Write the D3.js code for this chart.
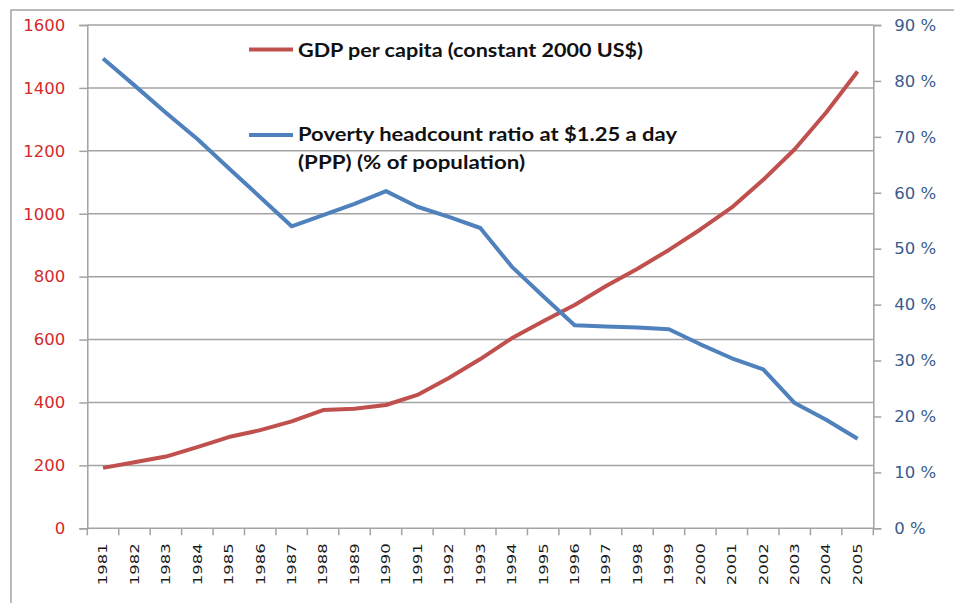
<!DOCTYPE html>
<html>
<head>
    <title>GDP per capita and poverty headcount</title>
    <script src="https://cdnjs.cloudflare.com/ajax/libs/d3/7.8.5/d3.min.js"></script>
    <style>
        body {
            margin: 0;
            background-color: #ffffff;
            overflow: hidden;
        }
        .tick-left text {
            fill: #d42a2a;
        }
        .tick-right text {
            fill: #3b5b8c;
        }
    </style>
</head>
<body>
<script>
// data
const years = ["1981","1982","1983","1984","1985","1986","1987","1988","1989","1990",
               "1991","1992","1993","1994","1995","1996","1997","1998","1999","2000",
               "2001","2002","2003","2004","2005"];
const gdpPerCapita = [192, 210, 228, 258, 290, 312, 340, 376, 380, 392,
                      424, 478, 538, 604, 658, 710, 770, 825, 885, 950,
                      1020, 1108, 1205, 1322, 1452];
const povertyRatio = [84.0, 79.2, 74.3, 69.6, 64.4, 59.2, 54.0, 56.0, 58.0, 60.3,
                      57.5, 55.7, 53.7, 46.8, 41.5, 36.3, 36.1, 35.9, 35.6, 32.9,
                      30.4, 28.4, 22.4, 19.4, 16.0];
const leftTicks = [0, 200, 400, 600, 800, 1000, 1200, 1400, 1600];
const rightTicks = [0, 10, 20, 30, 40, 50, 60, 70, 80, 90];
const seriesNames = ["GDP per capita (constant 2000 US$)",
                     ["Poverty headcount ratio at $1.25 a day", "(PPP) (% of population)"]];

const width = 954;
const height = 603;
const plot = { left: 87.3, right: 873.3, top: 25, bottom: 528.3 };
const gridColor = "#a3a3a3";
const red = "#c0504d";
const blue = "#4f81bd";
const axisFont = "'DejaVu Sans', Verdana, sans-serif";

const svg = d3.select("body")
    .append("svg")
    .attr("width", width)
    .attr("height", height);

// outer chart border
svg.append("rect")
    .attr("x", 11)
    .attr("y", 10)
    .attr("width", 1000)
    .attr("height", 700)
    .attr("fill", "none")
    .attr("stroke", "#8c8c8c")
    .attr("stroke-width", 1.2);

const x = d3.scaleBand()
    .domain(years)
    .range([plot.left, plot.right]);

const yLeft = d3.scaleLinear()
    .domain([0, 1600])
    .range([plot.bottom, plot.top]);

const yRight = d3.scaleLinear()
    .domain([0, 90])
    .range([plot.bottom, plot.top]);

// horizontal gridlines
svg.append("g")
    .selectAll("line")
    .data(leftTicks.filter(d => d > 0))
    .join("line")
    .attr("x1", plot.left)
    .attr("x2", plot.right)
    .attr("y1", d => yLeft(d))
    .attr("y2", d => yLeft(d))
    .attr("stroke", gridColor)
    .attr("stroke-width", 1.5);

// left axis
svg.append("g")
    .attr("class", "tick-left")
    .attr("transform", `translate(${plot.left},0)`)
    .call(d3.axisLeft(yLeft).tickValues(leftTicks).tickSize(8).tickPadding(14)
        .tickFormat(d => String(d)))
    .attr("font-family", axisFont)
    .attr("font-size", "16.5px");

// right axis
svg.append("g")
    .attr("class", "tick-right")
    .attr("transform", `translate(${plot.right},0)`)
    .call(d3.axisRight(yRight).tickValues(rightTicks).tickSize(8).tickPadding(13)
        .tickFormat(d => d + " %"))
    .attr("font-family", axisFont)
    .attr("font-size", "16.5px");

// bottom axis: ticks sit between categories, like Excel
const bottom = svg.append("g")
    .attr("transform", `translate(0,${plot.bottom})`);
bottom.append("line")
    .attr("x1", plot.left)
    .attr("x2", plot.right)
    .attr("stroke", gridColor)
    .attr("stroke-width", 1.5);
bottom.selectAll("line.tk")
    .data(years.concat(["end"]))
    .join("line")
    .attr("class", "tk")
    .attr("x1", (d, i) => i < years.length ? x(d) : plot.right)
    .attr("x2", (d, i) => i < years.length ? x(d) : plot.right)
    .attr("y1", 0)
    .attr("y2", 7)
    .attr("stroke", gridColor)
    .attr("stroke-width", 1.5);
bottom.selectAll("text")
    .data(years)
    .join("text")
    .attr("transform", d => `translate(${x(d) + x.bandwidth() / 2},15) rotate(-90)`)
    .attr("text-anchor", "end")
    .attr("dy", "0.36em")
    .attr("font-family", axisFont)
    .attr("font-size", "12px")
    .attr("fill", "#1a1a1a")
    .attr("textLength", 42)
    .attr("lengthAdjust", "spacingAndGlyphs")
    .text(d => d);

// style axis domain/tick lines
svg.selectAll(".tick-left path, .tick-right path, .tick-left line, .tick-right line")
    .attr("stroke", gridColor)
    .attr("stroke-width", 1.5);

const cx = d => x(d) + x.bandwidth() / 2;

// GDP line
svg.append("path")
    .datum(years.map((d, i) => [cx(d), yLeft(gdpPerCapita[i])]))
    .attr("d", d3.line())
    .attr("fill", "none")
    .attr("stroke", red)
    .attr("stroke-width", 4)
    .attr("stroke-linejoin", "round");

// poverty line
svg.append("path")
    .datum(years.map((d, i) => [cx(d), yRight(povertyRatio[i])]))
    .attr("d", d3.line())
    .attr("fill", "none")
    .attr("stroke", blue)
    .attr("stroke-width", 4)
    .attr("stroke-linejoin", "round");

// legend
const legend = svg.append("g")
    .attr("font-family", "Lato, 'Open Sans', sans-serif")
    .attr("font-weight", "bold")
    .attr("font-size", "19px")
    .attr("fill", "#111");

legend.append("line")
    .attr("x1", 249).attr("x2", 293)
    .attr("y1", 49.5).attr("y2", 49.5)
    .attr("stroke", red).attr("stroke-width", 4);
legend.append("text")
    .attr("x", 298).attr("y", 56.5)
    .attr("textLength", 345)
    .attr("lengthAdjust", "spacingAndGlyphs")
    .text(seriesNames[0]);

legend.append("line")
    .attr("x1", 249).attr("x2", 293)
    .attr("y1", 135).attr("y2", 135)
    .attr("stroke", blue).attr("stroke-width", 4);
legend.append("text")
    .attr("x", 298).attr("y", 141)
    .attr("textLength", 379)
    .attr("lengthAdjust", "spacingAndGlyphs")
    .text(seriesNames[1][0]);
legend.append("text")
    .attr("x", 298).attr("y", 169)
    .attr("textLength", 227)
    .attr("lengthAdjust", "spacingAndGlyphs")
    .text(seriesNames[1][1]);
</script>
</body>
</html>
